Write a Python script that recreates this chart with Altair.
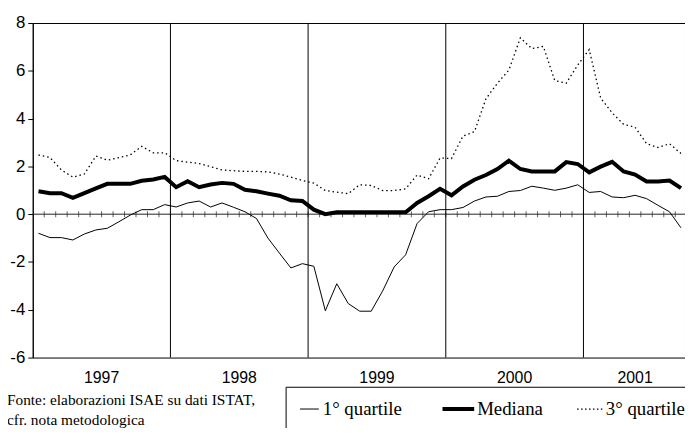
import altair as alt
import pandas as pd

# ---- data ----
years = ["1997", "1998", "1999", "2000", "2001"]
months_per_year = [12, 12, 12, 12, 9]

q1 = [-0.80, -0.98, -0.98, -1.08, -0.83, -0.66, -0.59, -0.32, -0.04, 0.19, 0.19, 0.40,
      0.30, 0.47, 0.55, 0.30, 0.47, 0.29, 0.10, -0.18, -1.00, -1.63, -2.25, -2.07,
      -2.18, -4.04, -2.91, -3.74, -4.06, -4.06, -3.21, -2.21, -1.70, -0.39, 0.10, 0.19,
      0.19, 0.28, 0.55, 0.72, 0.75, 0.95, 0.99, 1.17, 1.09, 1.00, 1.09, 1.23,
      0.91, 0.95, 0.72, 0.69, 0.79, 0.65, 0.37, 0.10, -0.57]
mediana = [0.96, 0.88, 0.88, 0.68, 0.88, 1.08, 1.27, 1.27, 1.27, 1.40, 1.45, 1.56,
           1.13, 1.38, 1.13, 1.24, 1.31, 1.27, 1.02, 0.96, 0.86, 0.77, 0.58, 0.55,
           0.19, 0.00, 0.08, 0.08, 0.08, 0.08, 0.08, 0.08, 0.08, 0.47, 0.75, 1.06,
           0.79, 1.16, 1.44, 1.64, 1.89, 2.24, 1.89, 1.79, 1.79, 1.79, 2.18, 2.10,
           1.75, 1.99, 2.19, 1.79, 1.66, 1.37, 1.37, 1.41, 1.09]
q3 = [2.48, 2.37, 1.85, 1.55, 1.68, 2.43, 2.26, 2.37, 2.48, 2.84, 2.57, 2.57,
      2.24, 2.18, 2.12, 1.99, 1.85, 1.82, 1.79, 1.79, 1.77, 1.68, 1.55, 1.41,
      1.30, 0.99, 0.92, 0.86, 1.23, 1.20, 0.99, 0.99, 1.06, 1.64, 1.48, 2.35,
      2.33, 3.27, 3.45, 4.83, 5.48, 6.03, 7.38, 6.93, 7.02, 5.59, 5.48, 6.24,
      6.89, 4.86, 4.24, 3.76, 3.64, 2.95, 2.79, 2.95, 2.54]

series_names = ["1° quartile", "Mediana", "3° quartile"]
y_ticks = [-6, -4, -2, 0, 2, 4, 6, 8]
source_lines = ["Fonte: elaborazioni ISAE su dati ISTAT,", "cfr. nota metodologica"]

# ---- tables built from the lists ----
n = len(q1)
df = pd.DataFrame({"t": [i + 0.5 for i in range(n)], "q1": q1, "med": mediana, "q3": q3})

starts, s = [], 0
for m in months_per_year:
    starts.append(s)
    s += m
year_df = pd.DataFrame({"year": years,
                        "center": [st + m / 2 for st, m in zip(starts, months_per_year)]})
bound_df = pd.DataFrame({"b": starts[1:]})
tick_df = pd.DataFrame({"b": list(range(1, n))})

W, H = 659, 338
xs = alt.Scale(domain=[0, 56.85], nice=False, zero=False)
ys = alt.Scale(domain=[-6, 8], nice=False, zero=False)


def X(f):
    return alt.X(f, type="quantitative", scale=xs, axis=None)


yaxis = alt.Axis(values=y_ticks, grid=False, title=None, tickSize=5, tickColor="black",
                 domainColor="black", labelFont="Liberation Sans", labelFontSize=17,
                 labelColor="black", labelPadding=3, labelExpr="'' + datum.value")

base = alt.Chart(df)
l_q1 = base.mark_line(color="black", strokeWidth=1).encode(
    x=X("t"), y=alt.Y("q1:Q", scale=ys, axis=yaxis))
l_med = base.mark_line(color="black", strokeWidth=4).encode(
    x=X("t"), y=alt.Y("med:Q", scale=ys))
l_q3 = base.mark_line(color="black", strokeWidth=1.3, strokeDash=[1.5, 3]).encode(
    x=X("t"), y=alt.Y("q3:Q", scale=ys))

zero = alt.Chart(pd.DataFrame({"z": [0]})).mark_rule(color="#222", strokeWidth=1).encode(
    y=alt.Y("z:Q", scale=ys))
ticks = alt.Chart(tick_df).mark_tick(orient="vertical", size=6, thickness=1, color="#222").encode(
    x=X("b"), y=alt.datum(0))
vlines = alt.Chart(bound_df).mark_rule(color="black", strokeWidth=1).encode(x=X("b"))

ylabels = alt.Chart(year_df).mark_text(
    font="Liberation Sans", fontSize=16, color="black",
    baseline="middle", align="center").encode(
    x=X("center"), y=alt.value(H + 21), text="year:N")

one = pd.DataFrame({"a": [0]})
src1 = alt.Chart(one).mark_text(
    font="Liberation Serif", fontSize=15.5, color="black", align="left", baseline="middle",
    text=source_lines[0]).encode(x=alt.value(-26), y=alt.value(H + 43))
src2 = alt.Chart(one).mark_text(
    font="Liberation Serif", fontSize=15.5, color="black", align="left", baseline="middle",
    text=source_lines[1]).encode(x=alt.value(-26), y=alt.value(H + 63))

# legend (drawn by hand to match the boxed legend of the original)
box = alt.Chart(one).mark_rect(
    fill="white", stroke="black", strokeWidth=1).encode(
    x=alt.value(256), x2=alt.value(720), y=alt.value(H + 30), y2=alt.value(H + 120))
leg_y = H + 52
lg1 = alt.Chart(one).mark_rule(color="black", strokeWidth=1).encode(
    x=alt.value(270), x2=alt.value(289), y=alt.value(leg_y))
lg2 = alt.Chart(one).mark_rule(color="black", strokeWidth=4).encode(
    x=alt.value(414), x2=alt.value(446), y=alt.value(leg_y))
lg3 = alt.Chart(one).mark_rule(color="black", strokeWidth=1.3, strokeDash=[1.5, 2.5]).encode(
    x=alt.value(550), x2=alt.value(576), y=alt.value(leg_y))
leg_pos = [293, 449, 579]
lg_txt = [
    alt.Chart(one).mark_text(font="Liberation Serif", fontSize=19, color="black",
                             align="left", baseline="middle", text=name).encode(
        x=alt.value(p), y=alt.value(leg_y))
    for name, p in zip(series_names, leg_pos)
]

chart = alt.layer(
    zero, ticks, vlines, l_q1, l_q3, l_med, ylabels, src1, src2, box, lg1, lg2, lg3, *lg_txt
).properties(
    width=W, height=H,
    autosize=alt.AutoSizeParams(type="none"),
    padding={"left": 25, "top": 13, "right": 0, "bottom": 69},
    background="white",
).configure_view(stroke="black", strokeWidth=1)

chart.save("out.html", embed_options={"renderer": "svg", "actions": False})
